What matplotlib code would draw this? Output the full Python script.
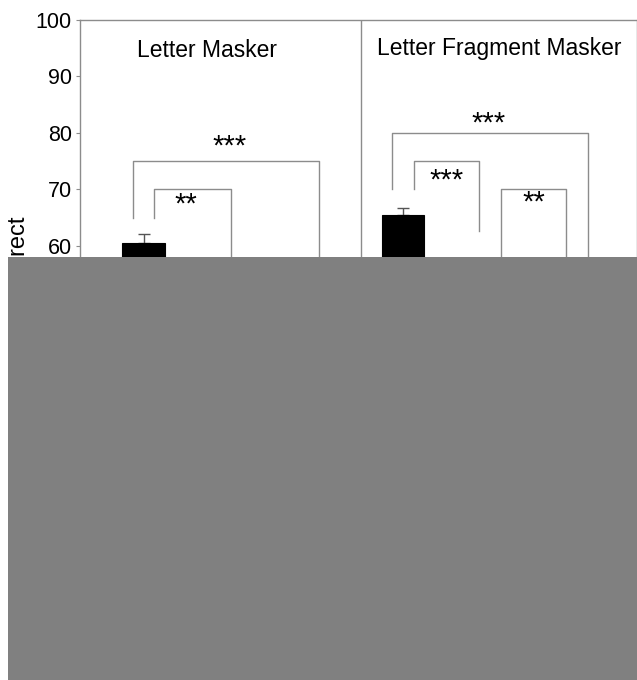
import matplotlib
matplotlib.use("Agg")
import matplotlib.pyplot as plt
from matplotlib.patches import Rectangle

plt.rcParams["font.family"] = ["Liberation Sans", "DejaVu Sans"]

# data (percent correct, mean and error)
panels = ["Letter Masker", "Letter Fragment Masker"]
letter_means = [60.5, 50.0, 46.0]
letter_errs = [1.6, 1.5, 1.5]
fragment_means = [65.4, 56.0, 52.0]
fragment_errs = [1.4, 1.4, 1.4]
bar_colors = ["black", "#b0b0b0", "white"]

# significance brackets: (panel, bar_i, bar_j, height, label)
brackets = [
    (0, 0, 2, 75, "***"),
    (0, 0, 1, 70, "**"),
    (1, 0, 2, 80, "***"),
    (1, 0, 1, 75, "***"),
    (1, 1, 2, 70, "**"),
]
yticks = [0, 10, 20, 30, 40, 50, 60, 70, 80, 90, 100]

# layout
left_x = [0.73, 1.86, 2.62]
right_x = [3.71, 4.71, 5.71]
divider = 3.23
bar_w = 0.49
leg = 0.125
line_col = "#8c8c8c"
fs = 16.5

fig = plt.figure(figsize=(6.37, 6.80), dpi=100)
ax = fig.add_axes([0.1256, 0.1397, 0.8744, 0.8309])

for xs, means, errs in [(left_x, letter_means, letter_errs),
                        (right_x, fragment_means, fragment_errs)]:
    ax.bar(xs, means, width=bar_w, color=bar_colors, edgecolor="black",
           linewidth=0.8, zorder=3)
    ax.errorbar(xs, means, yerr=[[0] * len(errs), errs], fmt="none",
                ecolor="#555555", elinewidth=1, capsize=4, capthick=1, zorder=2)

ax.axvline(divider, color=line_col, lw=1)

# brackets; leg bottoms follow the bars
label_pos = {
    (0, 0, 2): (1.72, 77.6), (0, 0, 1): (1.22, 67.4),
    (1, 0, 2): (4.69, 81.7), (1, 0, 1): (4.21, 71.6), (1, 1, 2): (5.21, 67.6),
}
leg_bottom = {
    (0, 0, 2): (65, 52), (0, 0, 1): (65, 56),
    (1, 0, 2): (70, 56), (1, 0, 1): (70, 62.7), (1, 1, 2): (56, 56),
}
for p, i, j, h, lab in brackets:
    xs = left_x if p == 0 else right_x
    if j - i == 2:
        x0, x1 = xs[i] - leg, xs[j] + leg
    else:
        x0, x1 = xs[i] + leg, xs[j] - leg
    b0, b1 = leg_bottom[(p, i, j)]
    ax.plot([x0, x0, x1, x1], [b0, h, h, b1], color=line_col, lw=1, zorder=4)
    tx, ty = label_pos[(p, i, j)]
    ax.text(tx, ty, lab, ha="center", va="center", fontsize=21)

ax.text(1.46, 94.6, panels[0], ha="center", va="center", fontsize=fs)
ax.text(4.82, 94.9, panels[1], ha="center", va="center", fontsize=fs)

ax.set_xlim(0, 6.40)
ax.set_ylim(0, 100)
ax.set_yticks(yticks)
ax.set_xticks([])
ax.tick_params(axis="y", labelsize=15.5, length=3, width=0.8, color=line_col, pad=3)
for s in ax.spines.values():
    s.set_color(line_col)
    s.set_linewidth(1)

fig.text(19 / 637, 1 - 216 / 680, "Percent Correct", rotation=90,
         ha="center", va="top", fontsize=17)

# image is cut off below this line in the reference (grey fill, thin white edge)
cut = (680 - 257) / 680
fig.add_artist(Rectangle((8 / 637, 0), 1 - 8 / 637, cut,
                         transform=fig.transFigure, facecolor="#808080",
                         edgecolor="none", zorder=100))
fig.add_artist(Rectangle((0, 0), 8 / 637, cut,
                         transform=fig.transFigure, facecolor="white",
                         edgecolor="none", zorder=100))

fig.savefig("out.png", dpi=100)
